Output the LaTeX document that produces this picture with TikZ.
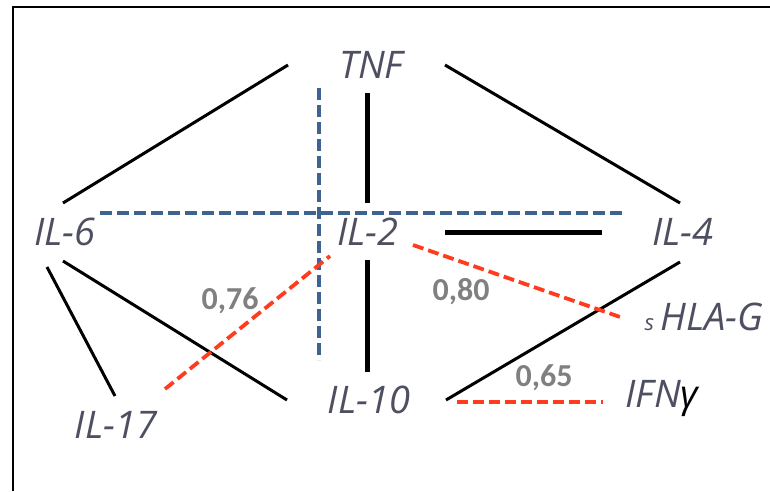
\documentclass[tikz,border=0pt]{standalone}
\usepackage{fontspec}
\setmainfont{Open Sans}
\newfontfamily\numfont{Carlito}
\usepackage{tikz}
\usetikzlibrary{calc}
\definecolor{txtgray}{RGB}{78,80,98}
\definecolor{numgray}{RGB}{128,128,128}
\definecolor{corred}{RGB}{255,60,30}
\definecolor{corblue}{RGB}{62,98,145}

\begin{document}
\begin{tikzpicture}[x=1pt,y=-1pt,
    lbl/.style={inner sep=0pt,text height=27pt,text depth=0pt,font=\fontsize{38}{38}\selectfont\itshape,text=txtgray},
    num/.style={inner sep=0pt,font=\numfont\bfseries\fontsize{32}{32}\selectfont,text=numgray},
    link/.style={line width=3pt},
    biglink/.style={line width=5pt},
    redlink/.style={corred,line width=3.8pt,dash pattern=on 11pt off 5pt},
    bluelink/.style={corblue,line width=4.5pt,dash pattern=on 12pt off 5pt}]
    \useasboundingbox (0,0) rectangle (770,491);

    % Frame
    \draw[line width=1.6pt] (13,491) -- (13,7) -- (770,7);

    % Cytokines
    \node[lbl] (tnf) at (371,65) {TNF};
    \node[lbl] (il6) at (65,232) {IL-6};
    \node[lbl] (il2) at (368,232) {IL-2};
    \node[lbl] (il4) at (683,232) {IL-4};
    \node[lbl] (il10) at (369,400) {IL-10};
    \node[lbl] (il17) at (116,425) {IL-17};
    \node[lbl] (hla) at (704,317) {{\fontsize{22}{22}\selectfont s}\,HLA-G};
    \node[lbl] (ifn) at (662,394) {IFN{\color{black}γ}};

    % Black links
    \draw[link] ($(tnf)+(-83,0)$) -- ($(il6)+(-2,-29)$);
    \draw[link] ($(tnf)+(74,0)$) -- ($(il4)+(-3,-29)$);
    \draw[biglink] ($(tnf)+(-4,28)$) -- ($(il2)+(-1,-29)$);
    \draw[biglink] ($(il2)+(77,0)$) -- ($(il4)+(-81,0)$);
    \draw[biglink] ($(il2)+(-1,28)$) -- ($(il10)+(-2,-28)$);
    \draw[link] ($(il6)+(-18,35)$) -- ($(il17)+(-1,-29)$);
    \draw[link] ($(il6)+(-2,29)$) -- ($(il10)+(-82,0)$);
    \draw[link] ($(il10)+(77,0)$) -- ($(il4)+(-3,30)$);

    % Blue dashed axes
    \draw[bluelink] ($(il6)+(35,-19)$) -- ($(il4)+(-60,-19)$);
    \draw[bluelink] ($(tnf)+(-52,23)$) -- ($(il10)+(-50,-40)$);

    % Red dashed correlations
    \draw[redlink] ($(il17)+(49,-36)$) -- ($(il2)+(-38,24)$);
    \draw[redlink] ($(il2)+(45,13)$) -- ($(hla)+(-81,1)$);
    \draw[redlink] ($(il10)+(88,2)$) -- ($(ifn)+(-59,8)$);

    % Coefficients
    \node[num] (r076) at (230,301) {0,76};
    \node[num] (r080) at (461,292) {0,80};
    \node[num] (r065) at (544,378) {0,65};
\end{tikzpicture}
\end{document}
